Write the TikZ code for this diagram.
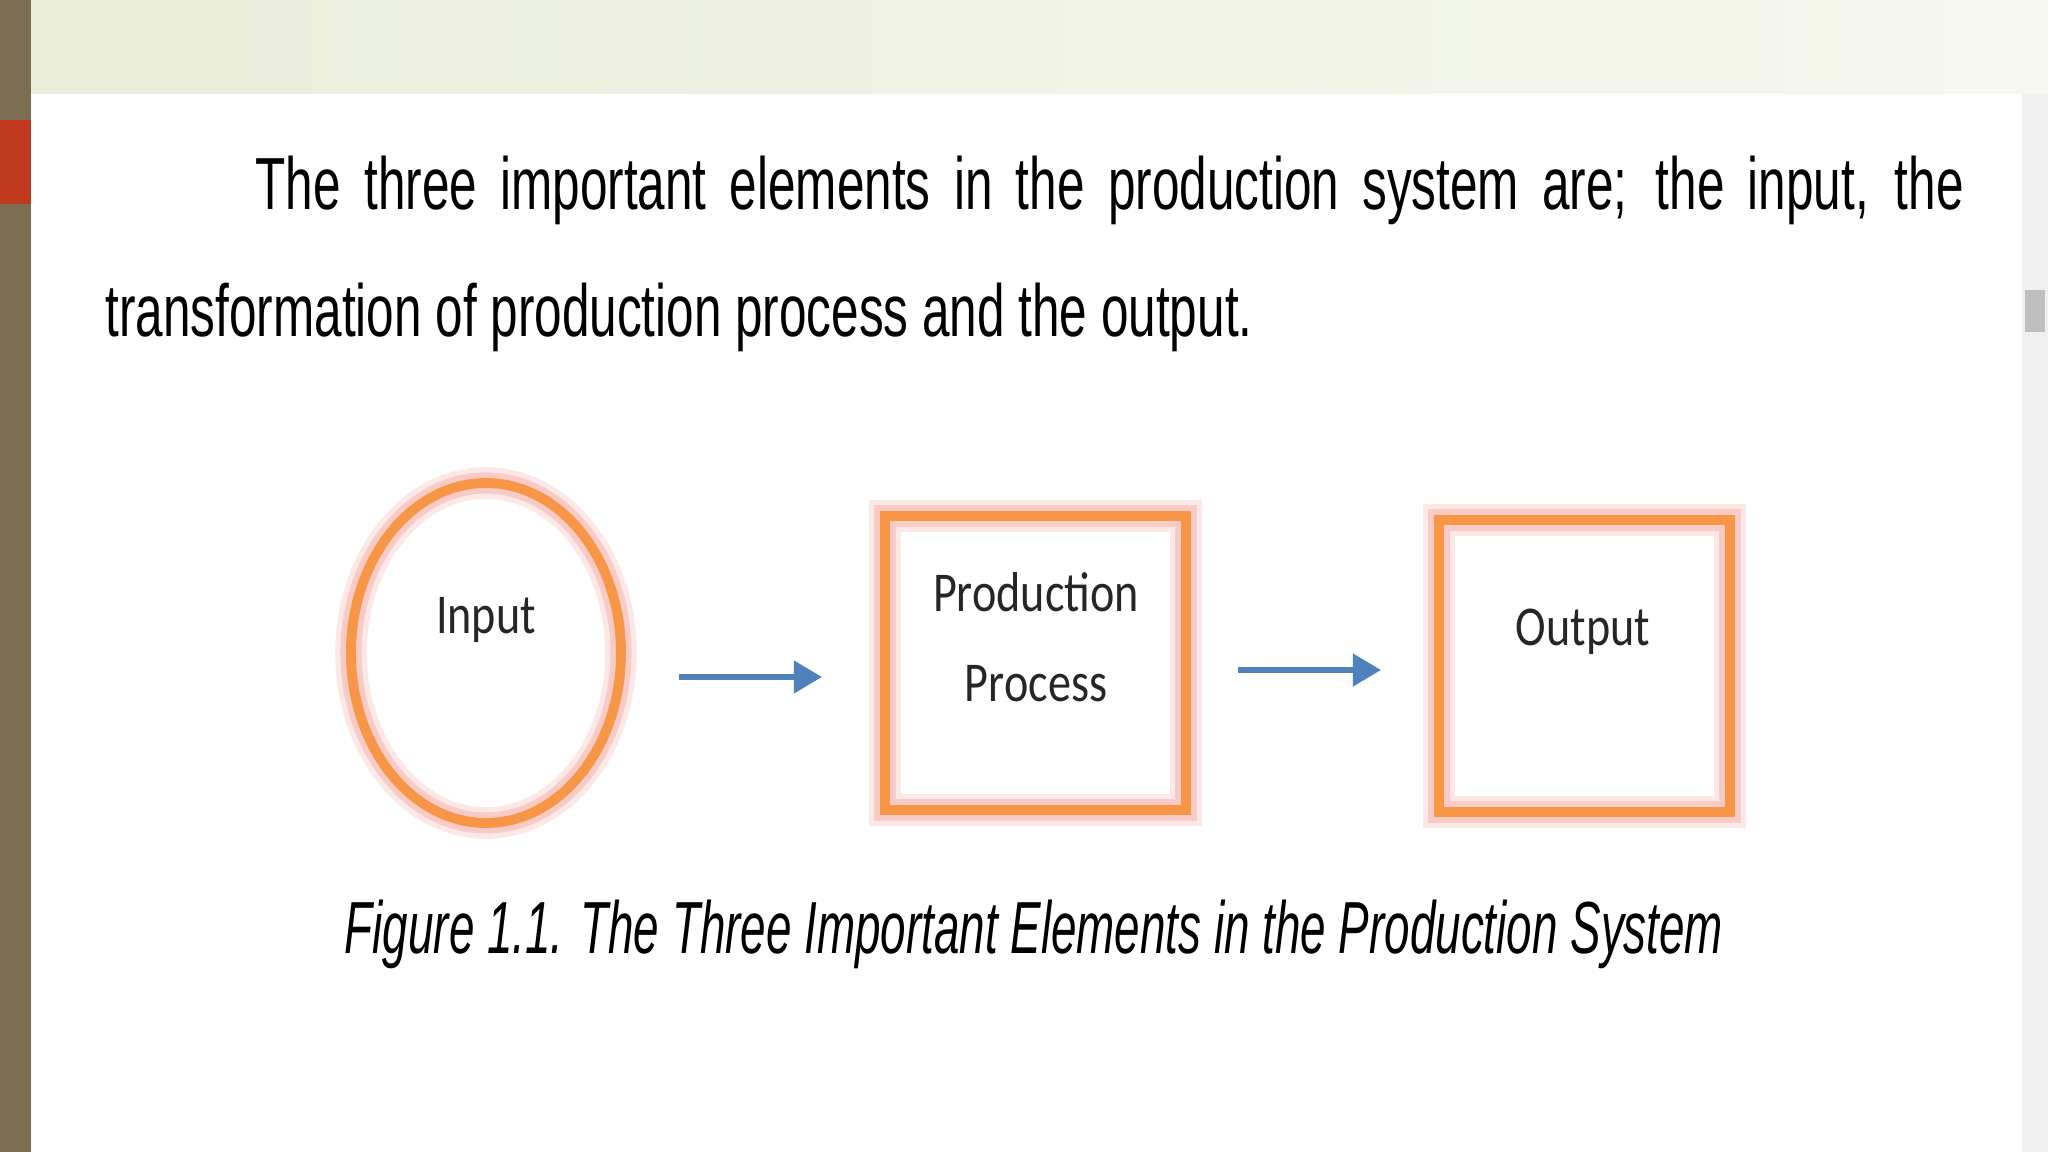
\documentclass[tikz,border=0pt]{standalone}
\usepackage{fontspec}
\setmainfont{Liberation Sans}[FakeStretch=0.67]
\newfontfamily\capfont{Liberation Sans}[FakeStretch=0.62]
\newfontfamily\calib{Carlito}[FakeStretch=0.82]
\usetikzlibrary{arrows.meta}
\definecolor{orng}{HTML}{F79646}
\definecolor{glow}{HTML}{F4A8A0}
\definecolor{arr}{HTML}{4F81BD}
\definecolor{olive}{HTML}{7A6D52}
\definecolor{redb}{HTML}{C0391F}
\definecolor{band}{HTML}{E9EDD9}
\tikzset{
  shapeline/.style={draw=orng, line width=2.8pt},
  glowA/.style={draw=glow, line width=9pt, opacity=0.25},
  glowB/.style={draw=glow, line width=6pt, opacity=0.45},
  flow/.style={draw=arr, line width=1.6pt, -{Triangle[length=8pt,width=9pt]}},
  lab/.style={font=\calib\fontsize{16}{20}\selectfont, text=black!85},
  para/.style={font=\fontsize{21}{25}\selectfont, anchor=base west, inner sep=0pt}
}
\begin{document}
\begin{tikzpicture}[x=0.01cm,y=-0.01cm]
\useasboundingbox (0,0) rectangle (2048,1152);
\fill[white] (0,0) rectangle (2048,1152);
\shade[left color=band, right color=band!40] (31,0) rectangle (2048,94);
\fill[olive] (0,0) rectangle (31,1152);
\fill[redb] (0,120) rectangle (31,204);
\fill[black!6] (2022,94) rectangle (2048,1152);
\fill[black!25] (2025,290) rectangle (2045,332);
% paragraph
\node[para] (l1) at (255,210) {\makebox[17.07cm][s]{The three important elements in the production system are; the input, the}};
\node[para] (l2) at (105,337) {transformation of production process and the output.};
% shapes
\draw[glowA] (486,653) ellipse [x radius=135, y radius=170];
\draw[glowB] (486,653) ellipse [x radius=135, y radius=170];
\draw[shapeline] (486,653) ellipse [x radius=135, y radius=170];
\node[lab] (in) at (486,620) {Input};
\coordinate (inE) at (679,677);
\draw[glowA] (885,516) rectangle (1186,810);
\draw[glowB] (885,516) rectangle (1186,810);
\draw[shapeline] (885,516) rectangle (1186,810);
\node[lab] (pp1) at (1036,592) {Production};
\node[lab] (pp2) at (1036,684) {Process};
\coordinate (ppW) at (822,677);
\coordinate (ppE) at (1238,670);
\draw[glowA] (1439,520) rectangle (1730,812);
\draw[glowB] (1439,520) rectangle (1730,812);
\draw[shapeline] (1439,520) rectangle (1730,812);
\node[lab] (out) at (1583,632) {Output};
\coordinate (outW) at (1381,670);
\draw[flow] (inE) -- (ppW);
\draw[flow] (ppE) -- (outW);
\node[font=\capfont\itshape\fontsize{21}{25}\selectfont] (cap) at (1034,934) {Figure 1.1. The Three Important Elements in the Production System};
\end{tikzpicture}
\end{document}
